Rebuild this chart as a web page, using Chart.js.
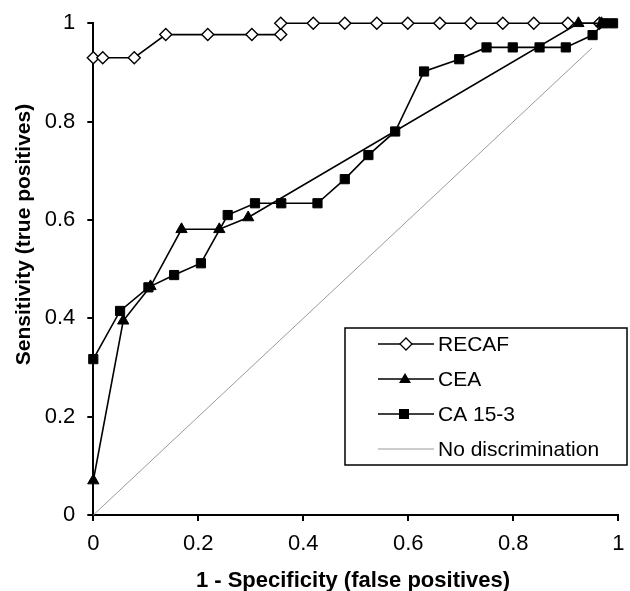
<!DOCTYPE html>
<html>
<head>
<meta charset="utf-8">
<script src="https://cdn.jsdelivr.net/npm/chart.js@4/dist/chart.umd.min.js"></script>
<style>
  body { margin: 0; background: #fff; }
  #roc { display: block; }
</style>
</head>
<body>
<canvas id="roc" width="630" height="591"></canvas>
<script>
// ROC curves data
var recafX = [0, 0.018, 0.078, 0.138, 0.218, 0.302, 0.357, 0.357, 0.419, 0.479, 0.540, 0.599, 0.660, 0.719, 0.780, 0.839, 0.904, 0.964];
var recafY = [0.930, 0.930, 0.930, 0.977, 0.977, 0.977, 0.977, 1, 1, 1, 1, 1, 1, 1, 1, 1, 1, 1];

var ceaX = [0, 0.057, 0.109, 0.168, 0.240, 0.295, 0.924, 0.968];
var ceaY = [0.070, 0.395, 0.465, 0.581, 0.581, 0.605, 1, 1];

var caX = [0, 0.051, 0.105, 0.154, 0.205, 0.256, 0.308, 0.358, 0.427, 0.479, 0.524, 0.575, 0.630, 0.697, 0.749, 0.799, 0.850, 0.900, 0.951, 0.972, 0.990];
var caY = [0.317, 0.415, 0.463, 0.488, 0.512, 0.610, 0.634, 0.634, 0.634, 0.683, 0.732, 0.780, 0.902, 0.927, 0.951, 0.951, 0.951, 0.951, 0.976, 1, 1];

var refX = [0, 0.95];
var refY = [0, 0.95];

var seriesNames = ["RECAF", "CEA", "CA 15-3", "No discrimination"];
var yTicks = [0, 0.2, 0.4, 0.6, 0.8, 1];
var xTitle = "1 - Specificity (false positives)";
var yTitle = "Sensitivity (true positives)";

var FONT = '"Liberation Sans", Arial, sans-serif';

function pts(xs, ys) {
    return xs.map(function(x, i) { return { x: x, y: ys[i] }; });
}

function tickLabel(v) {
    return String(Math.round(v * 10) / 10);
}

// titles + legend box drawn on top
var overlay = {
    id: 'overlay',
    afterDraw: function(chart) {
        var ctx = chart.ctx;
        ctx.save();
        ctx.fillStyle = '#000';
        ctx.textAlign = 'center';
        ctx.textBaseline = 'alphabetic';
        ctx.font = 'bold 22px ' + FONT;
        ctx.fillText(xTitle, 353, 587);
        ctx.save();
        ctx.translate(29.5, 234.5);
        ctx.rotate(-Math.PI / 2);
        ctx.font = 'bold 21px ' + FONT;
        ctx.fillText(yTitle, 0, 0);
        ctx.restore();

        // legend
        var bx = 345, by = 328, bw = 282, bh = 137;
        ctx.fillStyle = '#fff';
        ctx.fillRect(bx, by, bw, bh);
        ctx.strokeStyle = '#000';
        ctx.lineWidth = 1.5;
        ctx.strokeRect(bx, by, bw, bh);

        var rows = [344, 379, 414, 449];
        ctx.font = '21px ' + FONT;
        ctx.textAlign = 'left';
        ctx.textBaseline = 'middle';
        for (var i = 0; i < seriesNames.length; i++) {
            var y = rows[i];
            ctx.beginPath();
            ctx.moveTo(378, y);
            ctx.lineTo(434, y);
            ctx.strokeStyle = i == 3 ? '#9a9a9a' : '#000';
            ctx.lineWidth = i == 3 ? 1 : 1.6;
            ctx.stroke();
            ctx.fillStyle = '#000';
            ctx.strokeStyle = '#000';
            ctx.lineWidth = 1.3;
            if (i == 0) {
                ctx.beginPath();
                ctx.moveTo(400, y); ctx.lineTo(406, y - 6); ctx.lineTo(412, y); ctx.lineTo(406, y + 6);
                ctx.closePath();
                ctx.fillStyle = '#fff';
                ctx.fill();
                ctx.stroke();
            } else if (i == 1) {
                ctx.beginPath();
                ctx.moveTo(405, y - 6); ctx.lineTo(411, y + 4); ctx.lineTo(399, y + 4);
                ctx.closePath();
                ctx.fill();
            } else if (i == 2) {
                ctx.fillRect(399, y - 5, 10, 10);
            }
            ctx.fillStyle = '#000';
            ctx.fillText(seriesNames[i], 438, y + 1);
        }
        ctx.restore();
    }
};

var ctx = document.getElementById("roc").getContext('2d');
var roc = new Chart(ctx, {
    type: 'scatter',
    data: {
        datasets: [{
            label: seriesNames[0],
            data: pts(recafX, recafY),
            order: 3,
            showLine: true,
            borderColor: '#000',
            borderWidth: 1.6,
            pointStyle: 'rectRot',
            pointRadius: 6,
            pointBackgroundColor: '#fff',
            pointBorderColor: '#000',
            pointBorderWidth: 1.4
        }, {
            label: seriesNames[1],
            data: pts(ceaX, ceaY),
            order: 2,
            showLine: true,
            borderColor: '#000',
            borderWidth: 1.6,
            pointStyle: 'triangle',
            pointRadius: 6.5,
            pointBackgroundColor: '#000',
            pointBorderColor: '#000',
            pointBorderWidth: 1
        }, {
            label: seriesNames[2],
            data: pts(caX, caY),
            order: 1,
            showLine: true,
            borderColor: '#000',
            borderWidth: 1.6,
            pointStyle: 'rect',
            pointRadius: 6.5,
            pointBackgroundColor: '#000',
            pointBorderColor: '#000',
            pointBorderWidth: 1
        }, {
            label: seriesNames[3],
            data: pts(refX, refY),
            order: 4,
            showLine: true,
            borderColor: '#9a9a9a',
            borderWidth: 1,
            pointRadius: 0
        }]
    },
    options: {
        responsive: false,
        animation: false,
        events: [],
        clip: false,
        layout: { padding: { top: 23.3, right: 11.7, left: 0, bottom: 0 } },
        plugins: {
            legend: { display: false },
            tooltip: { enabled: false }
        },
        scales: {
            x: {
                type: 'linear',
                min: 0,
                max: 1,
                afterFit: function(scale) {
                    scale.height = 76;
                    scale.paddingLeft = 0;
                    scale.paddingRight = 0;
                },
                border: { display: true, color: '#000', width: 2 },
                grid: { drawOnChartArea: false, drawTicks: true, tickLength: 6, color: '#000', lineWidth: 2 },
                ticks: { stepSize: 0.2, padding: 10, color: '#000', font: { family: FONT, size: 22 }, callback: tickLabel }
            },
            y: {
                type: 'linear',
                min: 0,
                max: 1,
                afterFit: function(scale) {
                    scale.width = 93.3;
                    scale.paddingTop = 0;
                    scale.paddingBottom = 0;
                },
                afterBuildTicks: function(scale) {
                    scale.ticks = yTicks.map(function(v) { return { value: v }; });
                },
                border: { display: true, color: '#000', width: 2 },
                grid: { drawOnChartArea: false, drawTicks: true, tickLength: 6, color: '#000', lineWidth: 2 },
                ticks: { padding: 12, color: '#000', font: { family: FONT, size: 22 }, callback: tickLabel }
            }
        }
    },
    plugins: [overlay]
});
</script>
</body>
</html>
